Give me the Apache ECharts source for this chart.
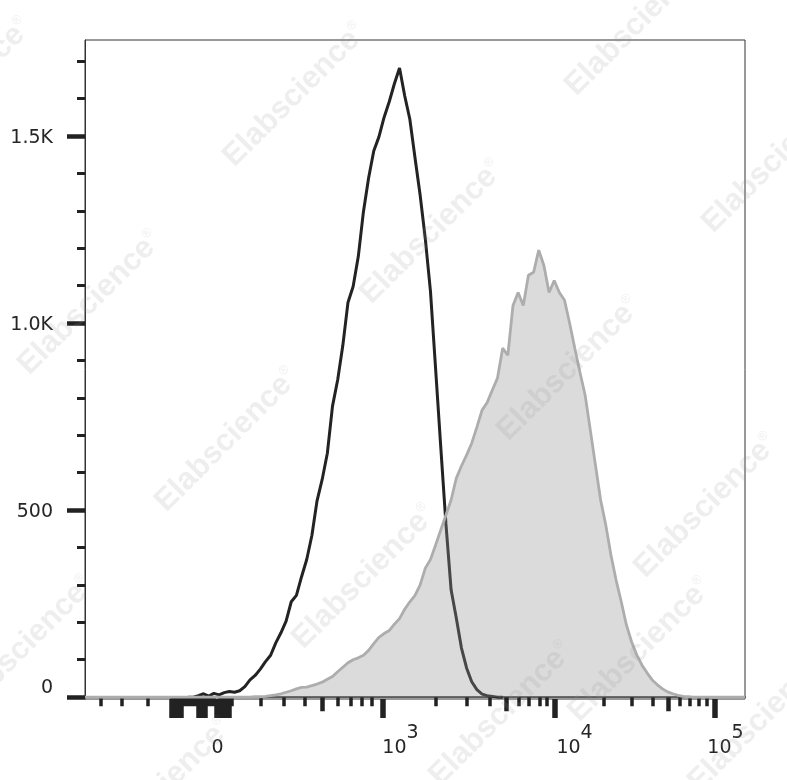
<!DOCTYPE html>
<html><head><meta charset="utf-8">
<script src="https://cdn.jsdelivr.net/npm/echarts@6/dist/echarts.min.js"></script>
<style>html,body{margin:0;padding:0;background:#fff}#c{width:787px;height:780px}</style>
</head><body><div id="c"></div>
<script>
// ---- data (channel space of the biexponential display, 0..1024) ----
const binStep = 8;
const controlStart = 160;
const controlCounts = [0,0,4,9,3,10,6,12,15,13,17,28,46,58,75,95,112,145,172,203,255,272,322,368,432,525,582,652,778,848,940,1055,1098,1178,1298,1388,1460,1498,1550,1592,1640,1682,1608,1545,1442,1342,1225,1085,877,668,463,287,212,132,78,41,20,8,4,2,0,0];
const stainedStart = 0;
const stainedCounts = [0,0,0,0,0,0,0,0,0,0,0,0,0,0,0,0,0,0,0,0,0,0,0,0,0,0,0,0,0,0,0,0,0,
  1,1,2,4,6,9,13,17,22,26,27,31,35,40,48,55,68,80,92,100,105,112,125,143,160,170,178,195,210,235,255,272,300,345,368,
  407,447,487,527,585,618,647,679,722,767,788,821,853,933,914,1047,1082,1047,1128,1136,1195,1154,1082,1114,1082,1061,999,932,868,807,714,620,
  527,460,380,313,255,193,148,113,86,65,46,33,22,14,9,5,2,1,
  0,0,0,0,0,0,0,0,0,0,0];
const yMinorTicks = [0,100,200,300,400,500,600,700,800,900,1000,1100,1200,1300,1400,1500,1600,1700];
const yMajorTicks = [0,500,1000,1500];
const yTickLabels = ['0','500','1.0K','1.5K'];
const xShortTicks = [24.4,56.3,96.7,
  135.0,139.6,144.3,148.9,153.6,158.3,162.9,167.6,172.2,176.9,181.5,186.2,190.8,195.5,200.1,209.5,214.1,218.8,223.4,228.1,
  273.1,308.7,341.3,392.5,412.7,429.3,444.8,
  544.6,592.2,628.4,672.9,688.9,704.9,716.3,
  804.2,848.2,880.8,923.1,938.6,951.5,964.6];
const xMediumTicks = [368.2,653.2,905.0];
const xLongTicks = [135.0,139.6,144.3,148.9,176.9,181.5,186.2,204.8,209.5,214.1,218.8,223.4,461.3,729.2,977.4];
const xLabelPos = [205.6,489.5,759.5,993.7];
const xLabelBase = ['0','10','10','10'];
const xLabelExp = ['','3','4','5'];

const controlData = controlCounts.map((v,i)=>[controlStart + i*binStep, v]);
const stainedData = stainedCounts.map((v,i)=>[stainedStart + i*binStep, v]);

const FONT = 'DejaVu Sans';
const TXT = '#262626';
const TICK = '#222';
const X_MIN = 0, X_MAX = 1024, Y_MIN = -5, Y_MAX = 1757;

function tickAxis(vals, len, w, line) {
  return {
    type:'value', min:X_MIN, max:X_MAX, position:'bottom', gridIndex:0,
    axisLine:{show:line, lineStyle:{color:TICK, width:1.5}},
    axisTick:{show:true, customValues:vals, length:len, lineStyle:{color:TICK, width:w}},
    axisLabel:{show:false}, splitLine:{show:false}
  };
}

const wmCenters = [[295,95],[432,232],[569,369],[706,506],[90,303],[227,440],[364,577],[501,714],[637,24],[774,161],[22,648],[-40,90],[640,650],[760,720],[160,790]];
const graphics = wmCenters.map(c=>({
  type:'text', x:c[0], y:c[1], rotation:Math.PI/4, z:100, silent:true,
  style:{text:'{a|Elabscience}{b|®}', align:'center', verticalAlign:'middle',
    rich:{a:{fontFamily:'Liberation Sans', fontWeight:'bold', fontSize:31, fill:'rgba(150,150,150,0.16)'},
          b:{fontFamily:'Liberation Sans', fontSize:13, fill:'rgba(150,150,150,0.16)', padding:[0,0,18,0]}}}
}));

const chart = echarts.init(document.getElementById('c'), null, {renderer:'canvas'});
chart.setOption({
  animation:false,
  backgroundColor:'#fff',
  grid:{left:85, right:42, top:40, bottom:81, show:true, borderColor:'#333', borderWidth:1, backgroundColor:'transparent'},
  xAxis:[
    tickAxis(xShortTicks, 9, 3.5, true),
    tickAxis(xMediumTicks, 14, 4.5, false),
    tickAxis(xLongTicks, 19, 5.5, false),
    {
      type:'value', min:X_MIN, max:X_MAX, position:'bottom', gridIndex:0,
      axisLine:{show:false}, axisTick:{show:false}, splitLine:{show:false},
      axisLabel:{show:true, customValues:xLabelPos, margin:32, color:TXT,
        formatter:function(v){
          const i = xLabelPos.indexOf(v);
          if (i < 0) return '';
          return xLabelExp[i] ? '{b|'+xLabelBase[i]+'}{s|'+xLabelExp[i]+'}' : '{b|'+xLabelBase[i]+'}';
        },
        rich:{
          b:{fontFamily:FONT, fontSize:19, lineHeight:19, color:TXT, padding:[15,0,0,0]},
          s:{fontFamily:FONT, fontSize:19, lineHeight:19, color:TXT, padding:[0,0,15,0]}
        }}
    }
  ],
  yAxis:[
    {type:'value', min:Y_MIN, max:Y_MAX, position:'left',
      axisLine:{show:true, lineStyle:{color:'#333', width:1}},
      axisTick:{show:true, customValues:yMinorTicks, length:8, lineStyle:{color:TICK, width:3}},
      axisLabel:{show:false}, splitLine:{show:false}},
    {type:'value', min:Y_MIN, max:Y_MAX, position:'left',
      axisLine:{show:false},
      axisTick:{show:true, customValues:yMajorTicks, length:18, lineStyle:{color:TICK, width:4.5}},
      axisLabel:{show:true, customValues:yMajorTicks, margin:32, color:TXT,
        formatter:function(v){
          const i = yMajorTicks.indexOf(v);
          if (i < 0) return '';
          return i === 0 ? '{z|'+yTickLabels[i]+'}' : '{n|'+yTickLabels[i]+'}';
        },
        rich:{
          z:{fontFamily:FONT, fontSize:19, lineHeight:19, color:TXT, padding:[0,0,18,0]},
          n:{fontFamily:FONT, fontSize:19, lineHeight:19, color:TXT, padding:[4,0,0,0]}
        }},
      splitLine:{show:false}}
  ],
  series:[
    {type:'line', name:'control', xAxisIndex:0, yAxisIndex:0, data:controlData,
      showSymbol:false, symbol:'none', z:2,
      lineStyle:{color:'#232323', width:3}},
    {type:'line', name:'stained', xAxisIndex:0, yAxisIndex:0, data:stainedData,
      showSymbol:false, symbol:'none', z:3,
      lineStyle:{color:'#adadad', width:2.8},
      areaStyle:{color:'rgba(145,145,145,0.47)', origin:0}}
  ],
  graphic:graphics
});
</script>
</body></html>
